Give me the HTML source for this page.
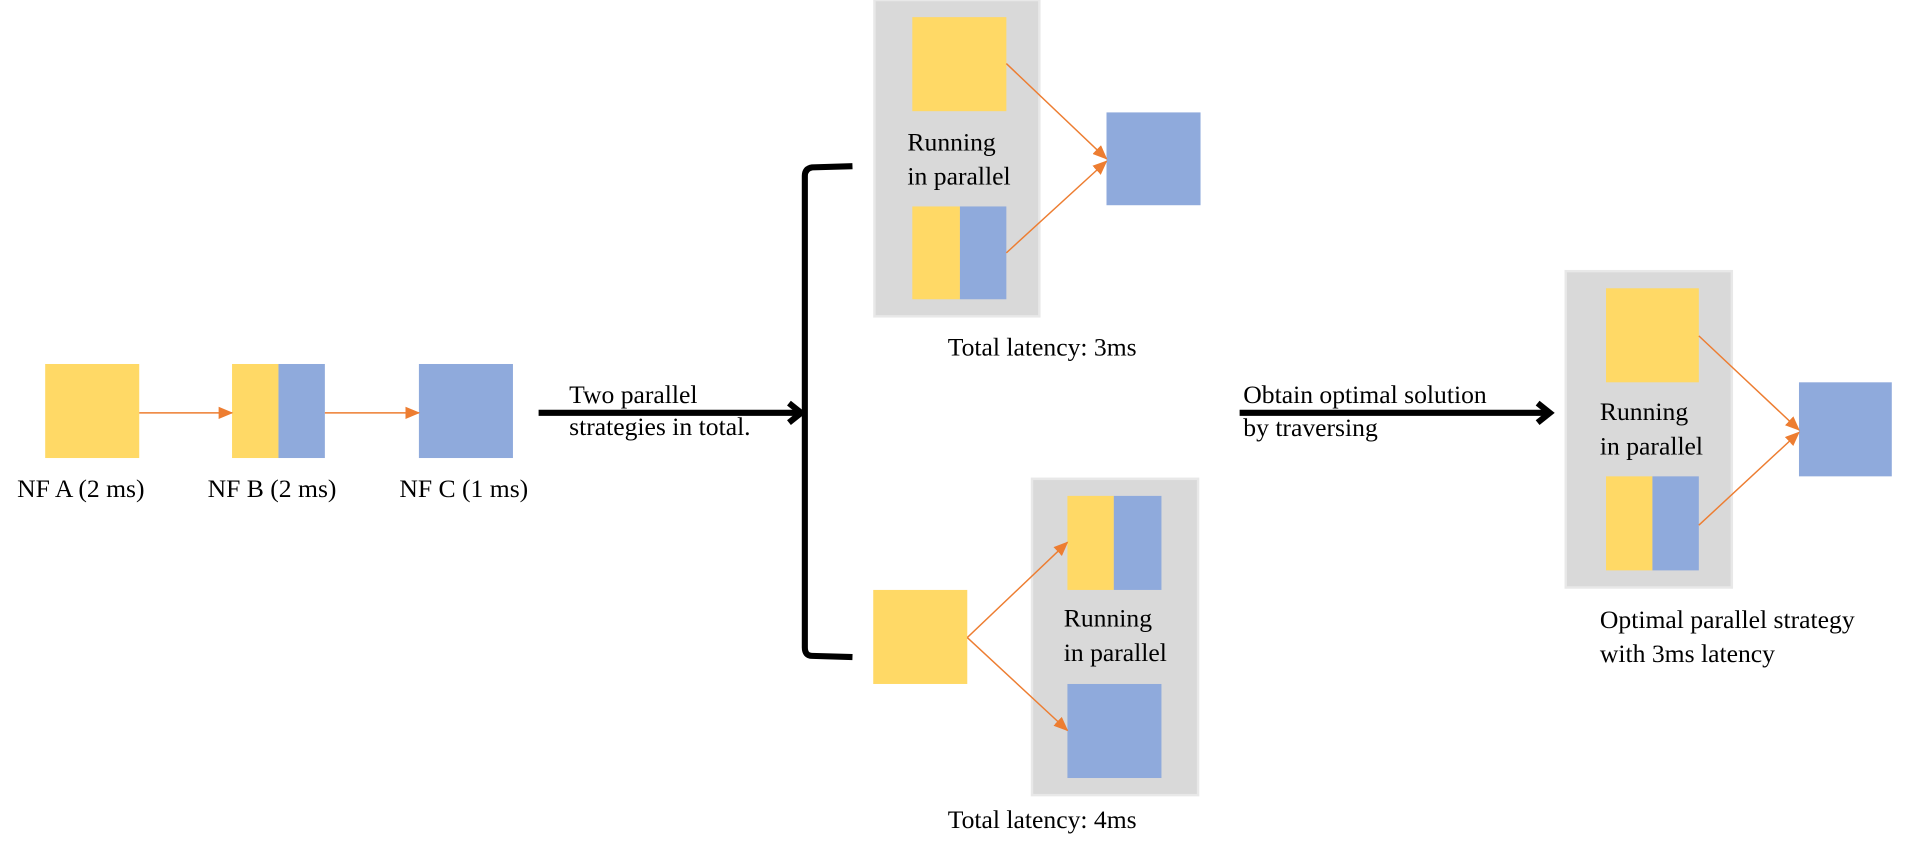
<!DOCTYPE html>
<html><head><meta charset="utf-8"><style>
html,body{margin:0;padding:0;background:#fff;}
svg{display:block;}
svg text{font-family:"Liberation Serif","Times New Roman","Noto Serif CJK SC","DejaVu Serif",serif !important;font-size:21px;fill:#000;}
</style></head><body>
<svg width="1915" height="855" viewBox="0 0 1568 700" xmlns="http://www.w3.org/2000/svg">
<defs>
<marker id="oa" markerWidth="12" markerHeight="10" refX="11" refY="5" orient="auto" markerUnits="userSpaceOnUse"><path d="M0,0 L12,5 L0,10 Z" fill="#ED7D31"/></marker>
<marker id="ba" markerWidth="20" markerHeight="20" refX="14" refY="10" orient="auto" markerUnits="userSpaceOnUse"><path d="M4,2 L14,10 L4,18" fill="none" stroke="#000" stroke-width="5"/></marker>
</defs>
<rect x="37" y="298" width="77" height="77" fill="#FFD966"/>
<rect x="190" y="298" width="38" height="77" fill="#FFD966"/>
<rect x="228" y="298" width="38" height="77" fill="#8FAADC"/>
<rect x="343" y="298" width="77" height="77" fill="#8FAADC"/>
<line x1="114" y1="338" x2="190" y2="338" stroke="#ED7D31" stroke-width="1.2" marker-end="url(#oa)"/>
<line x1="266" y1="338" x2="343" y2="338" stroke="#ED7D31" stroke-width="1.2" marker-end="url(#oa)"/>
<text x="14" y="407">NF A (2 ms)</text>
<text x="170" y="407">NF B (2 ms)</text>
<text x="327" y="407">NF C (1 ms)</text>
<line x1="441" y1="338" x2="656" y2="338" stroke="#000" stroke-width="5" marker-end="url(#ba)"/>
<text x="466" y="330">Two parallel</text>
<text x="466" y="356">strategies in total.</text>
<path d="M698,136 L665,137 Q659,138 659,144 L659,530 Q659,537 665,537 L698,538" fill="none" stroke="#000" stroke-width="5"/>
<rect x="716" y="0" width="135" height="259" fill="#D9D9D9" stroke="#E8E8E8" stroke-width="2"/>
<rect x="747" y="14" width="77" height="77" fill="#FFD966"/>
<rect x="747" y="169" width="39" height="76" fill="#FFD966"/>
<rect x="786" y="169" width="38" height="76" fill="#8FAADC"/>
<text x="743" y="123">Running</text>
<text x="743" y="151">in parallel</text>
<rect x="906" y="92" width="77" height="76" fill="#8FAADC"/>
<line x1="824" y1="52" x2="906" y2="130" stroke="#ED7D31" stroke-width="1.2" marker-end="url(#oa)"/>
<line x1="824" y1="207" x2="906" y2="132" stroke="#ED7D31" stroke-width="1.2" marker-end="url(#oa)"/>
<text x="776" y="291">Total latency: 3ms</text>
<rect x="845" y="392" width="136" height="259" fill="#D9D9D9" stroke="#E8E8E8" stroke-width="2"/>
<rect x="874" y="406" width="38" height="77" fill="#FFD966"/>
<rect x="912" y="406" width="39" height="77" fill="#8FAADC"/>
<rect x="874" y="560" width="77" height="77" fill="#8FAADC"/>
<text x="871" y="513">Running</text>
<text x="871" y="541">in parallel</text>
<rect x="715" y="483" width="77" height="77" fill="#FFD966"/>
<line x1="792" y1="522" x2="874" y2="444" stroke="#ED7D31" stroke-width="1.2" marker-end="url(#oa)"/>
<line x1="792" y1="522" x2="874" y2="598" stroke="#ED7D31" stroke-width="1.2" marker-end="url(#oa)"/>
<text x="776" y="678">Total latency: 4ms</text>
<line x1="1015" y1="338" x2="1269" y2="338" stroke="#000" stroke-width="5" marker-end="url(#ba)"/>
<text x="1018" y="330">Obtain optimal solution</text>
<text x="1018" y="357">by traversing</text>
<rect x="1282" y="222" width="136" height="259" fill="#D9D9D9" stroke="#E8E8E8" stroke-width="2"/>
<rect x="1315" y="236" width="76" height="77" fill="#FFD966"/>
<rect x="1315" y="390" width="38" height="77" fill="#FFD966"/>
<rect x="1353" y="390" width="38" height="77" fill="#8FAADC"/>
<text x="1310" y="344">Running</text>
<text x="1310" y="372">in parallel</text>
<rect x="1473" y="313" width="76" height="77" fill="#8FAADC"/>
<line x1="1391" y1="275" x2="1473" y2="352" stroke="#ED7D31" stroke-width="1.2" marker-end="url(#oa)"/>
<line x1="1391" y1="430" x2="1473" y2="354" stroke="#ED7D31" stroke-width="1.2" marker-end="url(#oa)"/>
<text x="1310" y="514">Optimal parallel strategy</text>
<text x="1310" y="542">with 3ms latency</text>
</svg>
</body></html>
